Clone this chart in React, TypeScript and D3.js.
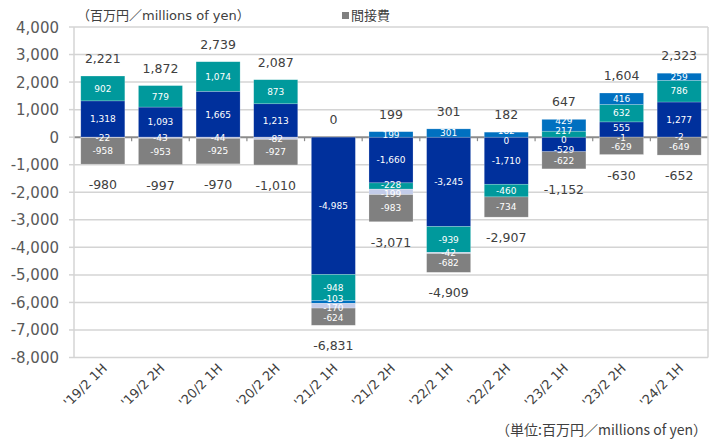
import React from 'react';
import * as d3 from 'd3';

// half-year periods
const categories = ["'19/2 1H", "'19/2 2H", "'20/2 1H", "'20/2 2H", "'21/2 1H", "'21/2 2H", "'22/2 1H", "'22/2 2H", "'23/2 1H", "'23/2 2H", "'24/2 1H"];

// segment values (null = no segment / no label)
const segA = [1318, 1093, 1665, 1213, -4985, -1660, -3245, -1710, -529, 555, 1277];
const segB = [902, 779, 1074, 873, -948, -228, -939, -460, 217, 632, 786];
const segD = [null, null, null, null, -103, 199, 301, 182, 429, 416, 259];
const segC = [-22, -43, -44, -82, -170, -199, -42, 0, 0, -1, -2];
const overhead = [-958, -953, -925, -927, -624, -983, -682, -734, -622, -629, -649];

// totals as printed above / below the bars
const posTotals = [2221, 1872, 2739, 2087, 0, 199, 301, 182, 647, 1604, 2323];
const negTotals = [-980, -997, -970, -1010, -6831, -3071, -4909, -2907, -1152, -630, -652];

const yTicks = [4000, 3000, 2000, 1000, 0, -1000, -2000, -3000, -4000, -5000, -6000, -7000, -8000];

const seriesKeys = ['a', 'b', 'd', 'c', 'g'];
const seriesValues = { a: segA, b: segB, d: segD, c: segC, g: overhead };
const seriesColors = { a: '#00309C', b: '#00999C', d: '#0070C0', c: '#C3CCE9', g: '#808080' };

const width = 715;
const height = 443;
const latinFont = "'DejaVu Sans', 'Noto Sans CJK JP', sans-serif";
const jpFont = "'Noto Sans CJK JP', sans-serif";

const locale = d3.formatLocale({ decimal: '.', thousands: ',', grouping: [3], currency: ['', ''], minus: '-' });
const fmt = locale.format(',');

const App = () => {
  const x = d3.scaleBand().domain(categories).range([74, 708]).paddingInner(0.236).paddingOuter(0.118);
  const y = d3.scaleLinear().domain([-8000, 4000]).range([357.5, 27]);

  const rows = categories.map((cat, i) => {
    const row = { cat };
    seriesKeys.forEach((k) => { row[k] = seriesValues[k][i] ?? 0; });
    return row;
  });

  const stacked = d3.stack().keys(seriesKeys).offset(d3.stackOffsetDiverging)(rows);

  // in-bar labels, spread apart a bit when segments are thin
  const labels = categories.map((cat, i) => {
    const items = [];
    stacked.forEach((s) => {
      const v = seriesValues[s.key][i];
      if (v === null) return;
      const d = s[i];
      items.push({ key: s.key, v, y: (y(d[0]) + y(d[1])) / 2 });
    });
    items.sort((p, q) => p.y - q.y);
    const gap = 9.5;
    for (let it = 0; it < 40; it++) {
      for (let j = 1; j < items.length; j++) {
        const ov = gap - (items[j].y - items[j - 1].y);
        if (ov > 0) {
          items[j - 1].y -= ov / 2;
          items[j].y += ov / 2;
        }
      }
    }
    return items;
  });

  return (
    <svg width={width} height={height} style={{ position: 'absolute', left: 0, top: 0, background: '#fff' }} fontFamily={latinFont}>
      {/* gridlines */}
      {yTicks.map((t) => (
        <line key={t} x1={74} x2={708} y1={y(t)} y2={y(t)} stroke={t === 0 ? '#8C8C8C' : '#D4D4D4'} strokeWidth={t === 0 ? 2 : 1.5} />
      ))}
      <line x1={74} x2={74} y1={y(4000)} y2={y(-8000)} stroke="#D4D4D4" strokeWidth={1.5} />
      <line x1={708} x2={708} y1={y(4000)} y2={y(-8000)} stroke="#D4D4D4" strokeWidth={1.5} />
      {yTicks.map((t) => (
        <line key={'t' + t} x1={69} x2={74} y1={y(t)} y2={y(t)} stroke="#D4D4D4" strokeWidth={1.5} />
      ))}
      {/* category ticks on zero line */}
      {categories.slice(1).map((c) => (
        <line key={'ct' + c} x1={x(c) - x.step() * 0.118} x2={x(c) - x.step() * 0.118} y1={y(0)} y2={y(0) + 4} stroke="#8C8C8C" strokeWidth={1.2} />
      ))}

      {/* y axis labels */}
      {yTicks.map((t) => (
        <text key={'l' + t} x={59} y={y(t) + 5.5} textAnchor="end" fontSize={15} fill="#595959">{fmt(t)}</text>
      ))}

      {/* bars */}
      {stacked.map((s) => (
        <g key={s.key} fill={seriesColors[s.key]}>
          {s.map((d, i) => {
            const y0 = y(Math.max(d[0], d[1]));
            const y1 = y(Math.min(d[0], d[1]));
            if (y1 - y0 <= 0) return null;
            return <rect key={i} x={x(categories[i])} width={x.bandwidth()} y={y0} height={y1 - y0} stroke="#ffffff" strokeOpacity={0.35} strokeWidth={0.6} />;
          })}
        </g>
      ))}

      {/* in-bar labels */}
      {labels.map((items, i) => items.map((it) => (
        <text key={i + it.key} x={x(categories[i]) + x.bandwidth() / 2} y={it.y + 3.3} textAnchor="middle" fontSize={9} fill="#ffffff">{fmt(it.v)}</text>
      )))}

      {/* totals */}
      {categories.map((c, i) => {
        const top = d3.max(stacked, (s) => s[i][1]);
        const bottom = d3.min(stacked, (s) => s[i][0]);
        return (
          <g key={'tot' + c} fontSize={12.5} fill="#404040" textAnchor="middle">
            <text x={x(c) + x.bandwidth() / 2} y={y(Math.max(top, 0)) - 13}>{fmt(posTotals[i])}</text>
            <text x={x(c) + x.bandwidth() / 2} y={y(bottom) + 25}>{fmt(negTotals[i])}</text>
          </g>
        );
      })}

      {/* x axis labels */}
      {categories.map((c) => {
        const cx = x(c) + x.bandwidth() / 2 + 5;
        return (
          <text key={'x' + c} transform={`translate(${cx},369) rotate(-45)`} textAnchor="end" fontSize={13} fill="#404040">{c}</text>
        );
      })}

      {/* title and legend */}
      <text x={77} y={20} fontSize={13} fill="#404040">（百万円／millions of yen）</text>
      <rect x={342} y={12} width={7} height={7} fill="#808080" />
      <text x={351} y={20} fontSize={13} fill="#404040" fontFamily={jpFont}>間接費</text>

      <text x={707} y={435} textAnchor="end" fontSize={14} fill="#404040" fontFamily={jpFont}>（単位:百万円／millions of yen）</text>
    </svg>
  );
};

export default App;
